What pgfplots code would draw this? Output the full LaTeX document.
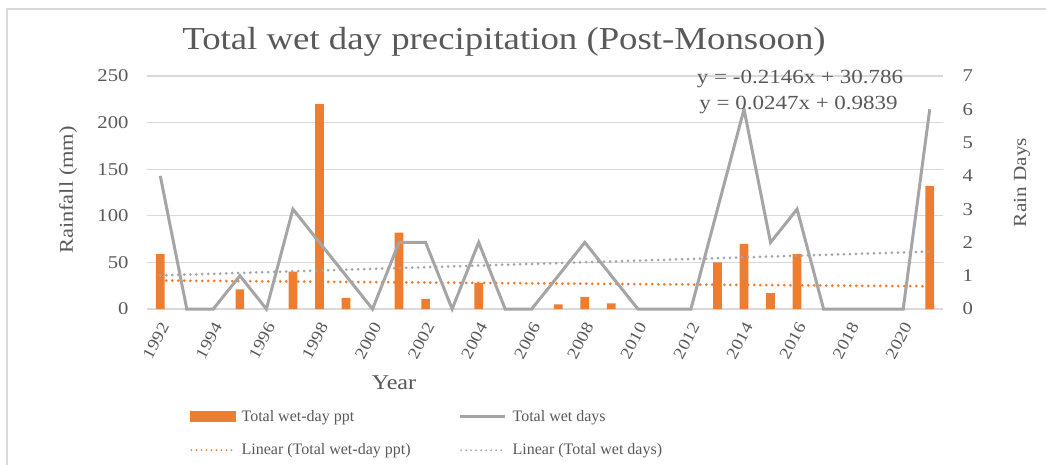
\documentclass[border=0pt]{standalone}
\usepackage{pgfplots}
\pgfplotsset{compat=1.18}
\usepackage{fontspec}
\setmainfont[FakeStretch=1.15]{Liberation Serif}
\newfontfamily\legfont{Liberation Serif}
\definecolor{barorange}{HTML}{ED7D31}
\definecolor{linegray}{HTML}{A5A5A5}
\definecolor{gridgray}{HTML}{D9D9D9}
\definecolor{txtgray}{HTML}{595959}
\pgfplotstableread{
year rain
1992 59
1993 0
1994 0
1995 21
1996 0
1997 40
1998 220
1999 12
2000 0
2001 82
2002 11
2003 0
2004 28
2005 0
2006 0
2007 5
2008 13
2009 6
2010 0
2011 0
2012 0
2013 50
2014 70
2015 17
2016 59
2017 0
2018 0
2019 0
2020 0
2021 132
}\raintable
\pgfplotstableread{
year days
1992 4
1993 0
1994 0
1995 1
1996 0
1997 3
1998 2
1999 1
2000 0
2001 2
2002 2
2003 0
2004 2
2005 0
2006 0
2007 1
2008 2
2009 1
2010 0
2011 0
2012 0
2013 3
2014 6
2015 2
2016 3
2017 0
2018 0
2019 0
2020 0
2021 6
}\daystable
\begin{document}
\begin{tikzpicture}
\useasboundingbox (0pt,0pt) rectangle (1046pt,464pt);
\draw[gridgray, line width=1.5pt] (7pt,-20pt) -- (7pt,455pt) -- (1070pt,455pt);
\begin{axis}[
  at={(147pt,155pt)}, anchor=south west,
  width=796pt, height=233pt, scale only axis,
  xmin=1991.5, xmax=2021.5,
  ymin=0, ymax=250,
  ytick={0,50,...,250},
  xtick={1992,1994,...,2020},
  xticklabels={1992,1994,1996,1998,2000,2002,2004,2006,2008,2010,2012,2014,2016,2018,2020},
  axis line style={draw=none},
  major tick length=0pt,
  ymajorgrids, grid style={gridgray, line width=1.3pt},
  tick label style={font=\fontsize{18}{20}\selectfont, text=txtgray},
  /pgf/number format/assume math mode=true,
  xticklabel style={font=\fontsize{16.5}{18}\selectfont, xshift=5pt, yshift=-14pt, rotate=62, anchor=east, inner sep=1pt},
  yticklabel style={xshift=-15pt},
  clip=false,
]
\addplot[ybar, bar width=8.7pt, fill=barorange, draw=none] table[x=year,y=rain]{\raintable};
\addplot[barorange, line width=3pt, line cap=round, dash pattern=on 0pt off 6pt] coordinates {(1992,30.57) (2021,24.35)};
\end{axis}
\begin{axis}[
  at={(147pt,155pt)}, anchor=south west,
  width=796pt, height=233pt, scale only axis,
  xmin=1991.5, xmax=2021.5,
  ymin=0, ymax=7,
  ytick={0,1,...,7},
  xtick=\empty,
  axis y line*=right,
  axis x line=none,
  y axis line style={draw=none},
  major tick length=0pt,
  tick label style={font=\fontsize{18}{20}\selectfont, text=txtgray},
  /pgf/number format/assume math mode=true,
  yticklabel style={xshift=16pt},
  clip=false,
  legend columns=2,
  legend cell align=left,
  legend style={draw=none, fill=none, at={(0.054,-0.425)}, anchor=north west, inner sep=0pt,
    font=\legfont\fontsize{16}{17}\selectfont, text=txtgray, /tikz/every even column/.append style={column sep=46pt},
    row sep=17pt, nodes={inner sep=2pt}},
]
\addlegendimage{legend image code/.code={\fill[barorange] (0pt,-5pt) rectangle (45pt,5pt); \path (0pt,0pt) (49pt,0pt);}}
\addlegendentry{Total wet-day ppt}
\addplot[linegray, line width=3pt, legend image code/.code={\draw[linegray, line width=3pt] (0pt,0pt) -- (45pt,0pt); \path (0pt,0pt) (49pt,0pt);}] table[x=year,y=days]{\daystable};
\addlegendentry{Total wet days}
\addlegendimage{legend image code/.code={\draw[barorange, line width=2pt, line cap=round, dash pattern=on 0pt off 5pt] (1pt,0pt) -- (44pt,0pt); \path (0pt,0pt) (49pt,0pt);}}
\addlegendentry{Linear (Total wet-day ppt)}
\addplot[linegray, line width=3pt, line cap=round, dash pattern=on 0pt off 6pt, legend image code/.code={\draw[linegray, line width=2pt, line cap=round, dash pattern=on 0pt off 5pt] (1pt,0pt) -- (44pt,0pt); \path (0pt,0pt) (49pt,0pt);}] coordinates {(1992,1.0086) (2021,1.7249)};
\addlegendentry{Linear (Total wet days)}
\end{axis}
\node[text=txtgray, font=\fontsize{32}{35}\selectfont] at (504pt,422pt) {Total wet day precipitation (Post-Monsoon)};
\node[text=txtgray, font=\fontsize{21}{23}\selectfont] at (394pt,81pt) {Year};
\node[text=txtgray, font=\fontsize{19.5}{22}\selectfont, rotate=90] at (68pt,274pt) {Rainfall (mm)};
\node[text=txtgray, font=\fontsize{18.5}{21}\selectfont, rotate=90] at (1022pt,281.5pt) {Rain Days};
\node[text=txtgray, font=\fontsize{20}{22}\selectfont] at (800pt,385pt) {y = -0.2146x + 30.786};
\node[text=txtgray, font=\fontsize{20}{22}\selectfont] at (798.5pt,359pt) {y = 0.0247x + 0.9839};
\end{tikzpicture}
\end{document}
